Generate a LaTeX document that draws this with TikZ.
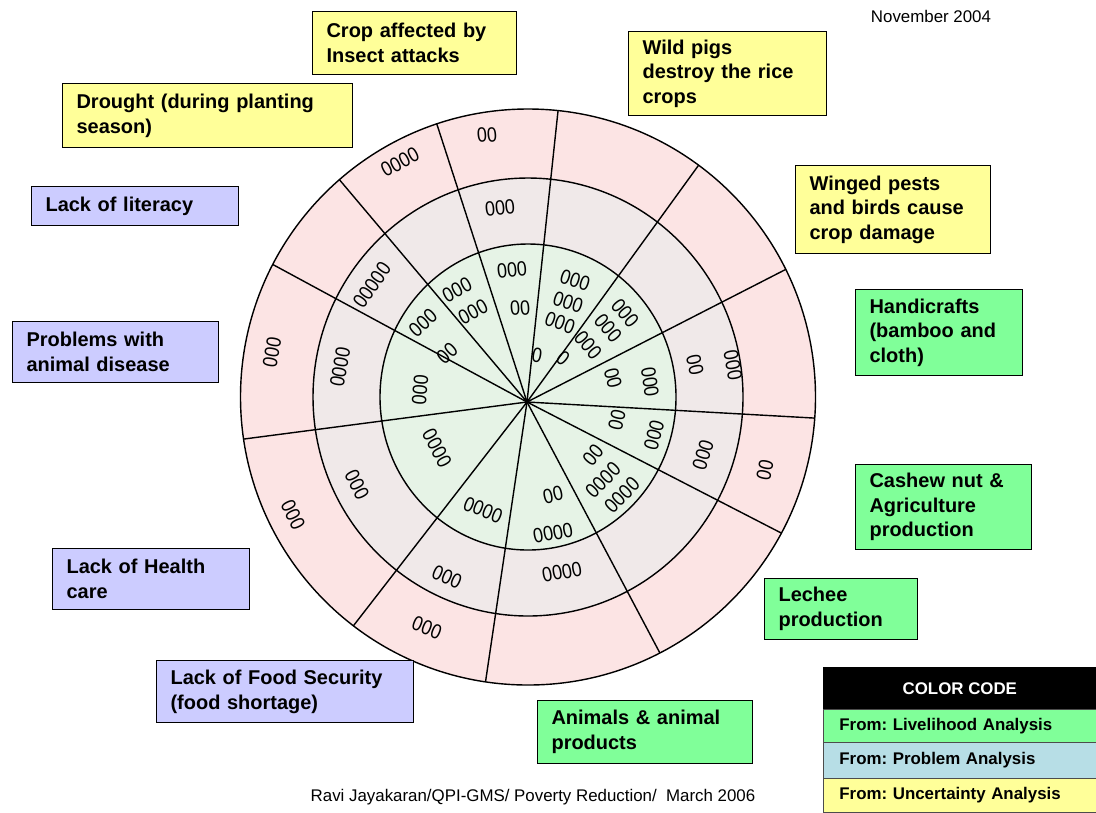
\documentclass[tikz,border=0pt]{standalone}
\usepackage{fontspec}
\setmainfont{Liberation Sans}

\definecolor{pinkring}{RGB}{252,228,228}
\definecolor{grayring}{RGB}{240,233,233}
\definecolor{greenring}{RGB}{230,243,230}
\definecolor{ylw}{RGB}{255,255,153}
\definecolor{lav}{RGB}{204,204,255}
\definecolor{grn}{RGB}{128,255,153}
\definecolor{codeblue}{RGB}{183,222,230}

\newcommand{\labfont}{\fontsize{14.2}{17.5}\selectfont\bfseries}
\newcommand{\zfont}{\fontsize{12.8}{14}\selectfont}
\newcommand{\smallfont}{\fontsize{12}{14}\selectfont}

\tikzset{
  lbox/.style={draw=black, line width=0.8pt, anchor=north west, align=left,
    inner xsep=0.35cm, inner ysep=0pt, font=\labfont},
  ybox/.style={lbox, fill=ylw},
  bbox/.style={lbox, fill=lav},
  gbox/.style={lbox, fill=grn},
  ring/.style={draw=black, line width=1pt},
  spoke/.style={draw=black, line width=1pt},
  zz/.style={font=\zfont, inner sep=0pt},
  coderow/.style={draw=black!70, line width=0.6pt, anchor=north west,
    text width=6.025cm, inner xsep=0.4cm, align=left, font=\smallfont\bfseries},
}

\begin{document}
\begin{tikzpicture}[x=0.025cm,y=-0.025cm]
\useasboundingbox (0,0) rectangle (1096,812);

% the three rings
\coordinate (oc) at (528,397);
\coordinate (ctr) at (527,402);
\draw[ring,fill=pinkring] (oc) ellipse [x radius=287.5, y radius=288];
\draw[ring,fill=grayring] (oc) ellipse [x radius=215, y radius=219];
\draw[ring,fill=greenring] (oc) ellipse [x radius=148, y radius=153];

% spokes
\foreach \a [count=\i] in {26.3,53.6,84,108.5,131,152.6,188.4,232.6,261.5,297.3,331.8,355.8}
{
  \coordinate (rim\i) at ({528+287.5*cos(\a)},{397-288*sin(\a)});
  \draw[spoke] (ctr) -- (rim\i);
}

% scores
\foreach \x/\y/\r/\txt [count=\i] in {
  400/162/28/0000, 487/135/5/00, 272/352/80/000, 293/515/-64/000,
  427/628/-22/000, 765/470/78/00,
  500/208/6/000, 372/285/55/00000, 340/367/80/0000, 357/485/-63/000,
  447/577/-24/000, 562/572/11/0000, 703/455/73/000, 733/365/-80/000,
  695/365/-78/00,
  512/270/6/000, 520/308/4/00, 457/290/28/000, 473/312/28/000,
  423/323/42/000, 447/353/42/00, 420/390/85/000, 437/448/-62/0000,
  483/510/-22/0000, 553/495/13/00, 553/533/11/0000, 593/455/50/00,
  603/480/45/0000, 622/495/45/0000, 617/420/77/00, 654/435/75/000,
  613/378/-76/00, 650/382/-82/000, 625/313/-50/000, 608/328/-50/000,
  588/345/-50/000, 563/358/-40/0, 575/280/-18/000, 568/302/-18/000,
  560/323/-20/000, 537/355/-10/0}
  \node[rotate=\r, yscale=1.15, zz] (z\i) at (\x,\y) {\txt};

% labels
\node[ybox, text width=4.4cm, minimum height=1.575cm] (crop) at (312,11) {Crop affected by\\Insect attacks};
\node[ybox, text width=6.55cm, minimum height=1.6cm] (drought) at (62,83) {Drought (during planting\\season)};
\node[bbox, text width=4.475cm, minimum height=0.975cm] (literacy) at (31,186) {Lack of literacy};
\node[bbox, text width=4.45cm, minimum height=1.525cm] (disease) at (12,321) {Problems with\\animal disease};
\node[bbox, text width=4.225cm, minimum height=1.525cm] (health) at (52,548) {Lack of Health\\care};
\node[bbox, text width=5.725cm, minimum height=1.55cm] (food) at (156,660) {Lack of Food Security\\(food shortage)};
\node[gbox, text width=4.675cm, minimum height=1.575cm] (animals) at (537,700) {Animals \& animal\\products};
\node[gbox, text width=3.125cm, minimum height=1.525cm] (lechee) at (764,578) {Lechee\\production};
\node[gbox, text width=3.7cm, minimum height=2.125cm] (cashew) at (855,464) {Cashew nut \&\\Agriculture\\production};
\node[gbox, text width=3.475cm, minimum height=2.15cm] (craft) at (855,289) {Handicrafts\\(bamboo and\\cloth)};
\node[ybox, text width=4.175cm, minimum height=2.2cm] (pests) at (795,165) {Winged pests\\and birds cause\\crop damage};
\node[ybox, text width=4.25cm, minimum height=2.1cm] (pigs) at (628,31) {Wild pigs\\destroy the rice\\crops};

\node[font=\smallfont] (date) at (931,16) {November 2004};
\node[font=\smallfont] (credit) at (533,797) {Ravi Jayakaran/QPI-GMS/ Poverty Reduction/\ \ March 2006};

% colour code
\node[fill=black, text=white, anchor=north west, minimum width=6.825cm, minimum height=1.05cm,
  font=\smallfont\bfseries] (codehead) at (823,667) {COLOR CODE};
\node[coderow, fill=grn, minimum height=0.825cm] (code1) at (823,709) {From:\ Livelihood Analysis};
\node[coderow, fill=codeblue, minimum height=0.9cm] (code2) at (823,742) {From:\ Problem Analysis};
\node[coderow, fill=ylw, minimum height=0.85cm] (code3) at (823,778) {From:\ Uncertainty Analysis};

\end{tikzpicture}
\end{document}
